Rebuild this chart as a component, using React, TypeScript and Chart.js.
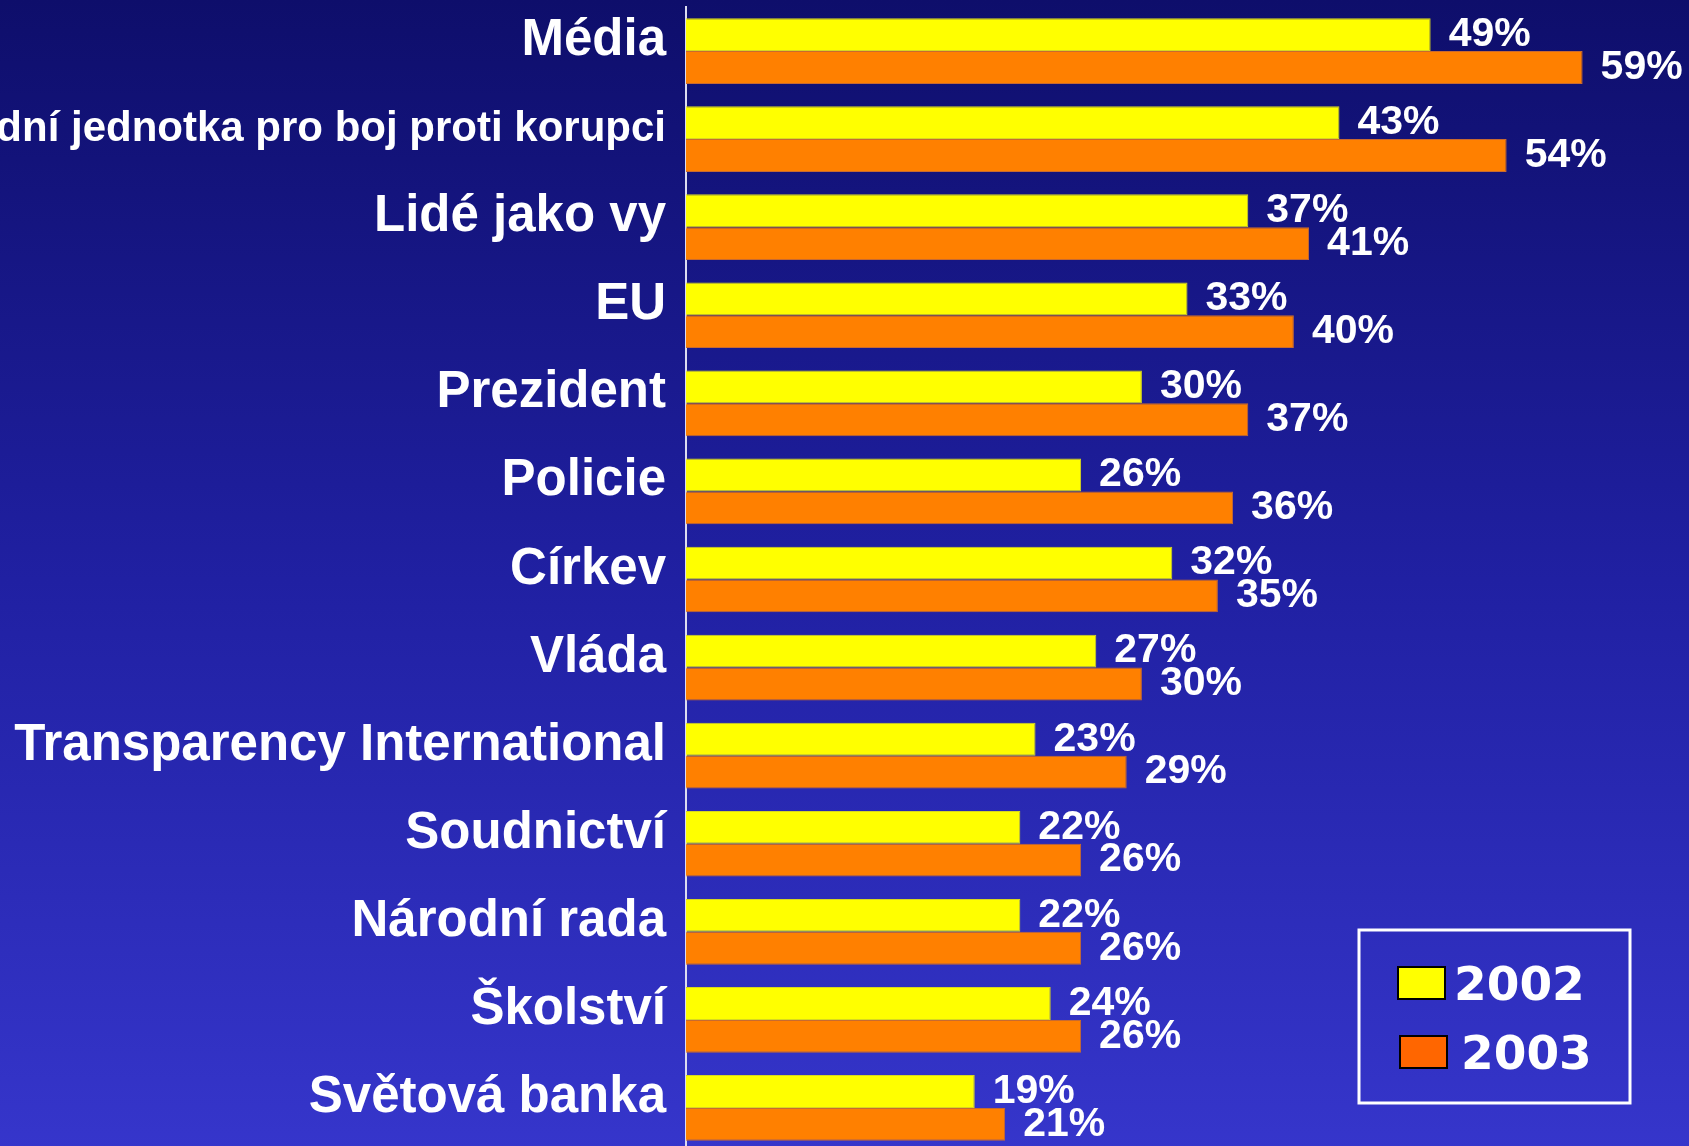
import React, { useEffect, useRef } from "react";
import { Chart, registerables } from "chart.js";

Chart.register(...registerables);

const labels = [
  "Média",
  "Národní jednotka pro boj proti korupci",
  "Lidé jako vy",
  "EU",
  "Prezident",
  "Policie",
  "Církev",
  "Vláda",
  "Transparency International",
  "Soudnictví",
  "Národní rada",
  "Školství",
  "Světová banka",
];
const values2002 = [49, 43, 37, 33, 30, 26, 32, 27, 23, 22, 22, 24, 19];
const values2003 = [59, 54, 41, 40, 37, 36, 35, 30, 29, 26, 26, 26, 21];
const seriesNames = ["2002", "2003"];
const barColors = ["#ffff00", "#ff8000"];
const barBorders = ["#d8d820", "#c86a30"];
const legendColors = ["#ffff00", "#ff6600"];

const valueLabelPlugin = {
  id: "valueLabels",
  afterDatasetsDraw(chart: any) {
    const ctx = chart.ctx;
    ctx.save();
    ctx.fillStyle = "#ffffff";
    ctx.font = "bold 41px 'Liberation Sans', Arial, sans-serif";
    ctx.textAlign = "left";
    ctx.textBaseline = "middle";
    chart.data.datasets.forEach((ds: any, di: number) => {
      const meta = chart.getDatasetMeta(di);
      meta.data.forEach((bar: any, i: number) => {
        ctx.fillText(ds.data[i] + "%", bar.x + 18, bar.y);
      });
    });
    ctx.restore();
  },
};

const legendPlugin = {
  id: "boxLegend",
  afterDraw(chart: any) {
    const ctx = chart.ctx;
    ctx.save();
    ctx.strokeStyle = "#ffffff";
    ctx.lineWidth = 3;
    ctx.strokeRect(1359, 930, 271, 173);
    const items = [
      { sx: 1398, sy: 967, tx: 1454, ty: 1000 },
      { sx: 1400, sy: 1036, tx: 1461, ty: 1069 },
    ];
    ctx.font = "bold 47px 'DejaVu Sans', Verdana, sans-serif";
    ctx.textBaseline = "alphabetic";
    ctx.textAlign = "left";
    seriesNames.forEach((name, i) => {
      const it = items[i];
      ctx.fillStyle = legendColors[i];
      ctx.fillRect(it.sx, it.sy, 47, 32);
      ctx.strokeStyle = "#000000";
      ctx.lineWidth = 2;
      ctx.strokeRect(it.sx, it.sy, 47, 32);
      ctx.fillStyle = "#ffffff";
      ctx.fillText(name, it.tx, it.ty);
    });
    ctx.restore();
  },
};

export default function App() {
  const ref = useRef<HTMLCanvasElement | null>(null);
  useEffect(() => {
    if (!ref.current) return;
    const chart = new Chart(ref.current, {
      type: "bar",
      data: {
        labels,
        datasets: [values2002, values2003].map((vals, i) => ({
          label: seriesNames[i],
          data: vals,
          backgroundColor: barColors[i],
          borderColor: barBorders[i],
          borderWidth: 1,
          categoryPercentage: 0.746,
          barPercentage: 1.0,
        })),
      },
      options: {
        indexAxis: "y",
        animation: false,
        responsive: false,
        maintainAspectRatio: false,
        layout: { padding: { top: 7, bottom: 8, left: 0, right: 0 } },
        plugins: {
          legend: { display: false },
          tooltip: { enabled: false },
          title: { display: false },
        },
        scales: {
          x: { display: false, min: 0, max: 66 },
          y: {
            grid: { display: false, drawTicks: false },
            border: { display: true, color: "#dcdcf0", width: 2 },
            ticks: {
              color: "#ffffff",
              padding: 20,
              labelOffset: -10,
              autoSkip: false,
              font: (c: any) => ({
                family: "'Liberation Sans', Arial, sans-serif",
                size: c.index === 1 ? 42 : 51,
                weight: "bold",
              }),
            },
            afterFit(scale: any) {
              scale.width = 686;
              scale.paddingTop = 0;
              scale.paddingBottom = 0;
            },
          },
        },
      } as any,
      plugins: [valueLabelPlugin, legendPlugin],
    });
    return () => chart.destroy();
  }, []);
  return (
    <div
      style={{
        position: "fixed",
        left: 0,
        top: 0,
        width: 1689,
        height: 1160,
        background: "linear-gradient(#0e0e6b, #2020a2 50%, #3636cc)",
        overflow: "hidden",
      }}
    >
      <canvas ref={ref} width={1689} height={1160} style={{ display: "block" }} />
    </div>
  );
}
